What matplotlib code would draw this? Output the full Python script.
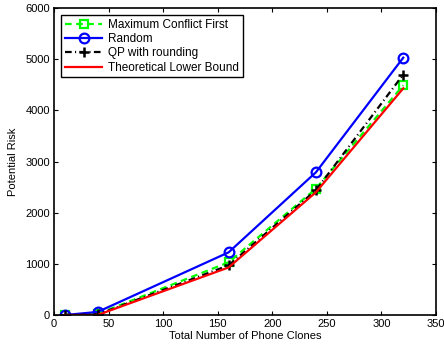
import matplotlib
matplotlib.use("Agg")
import matplotlib.pyplot as plt

# number of phone clones
clones = [10, 40, 160, 240, 320]

# potential risk per method
mcf = [0, 20, 1030, 2470, 4490]
rand = [0, 60, 1225, 2790, 5030]
qp = [0, 10, 970, 2440, 4700]
lower = [0, 0, 930, 2400, 4430]

plt.rcParams['font.family'] = ['Liberation Sans', 'DejaVu Sans']
plt.rcParams['font.size'] = 8

fig = plt.figure(figsize=(4.44, 3.49), dpi=100)
ax = fig.add_axes([0.1216, 0.0974, 0.8604, 0.8796])

ax.plot(clones, mcf, '--s', color=(0, 1, 0), lw=1.6, ms=6, mfc='none', mew=1.6,
        dashes=(3, 2), label='Maximum Conflict First')
ax.plot(clones, rand, '-o', color='blue', lw=1.6, ms=7, mfc='none', mew=1.6,
        label='Random')
ax.plot(clones, qp, '-.+', color='black', lw=1.6, ms=7, mew=1.8,
        dashes=(3, 1.5, 0.5, 1.5), label='QP with rounding')
ax.plot(clones, lower, '-', color='red', lw=1.6, label='Theoretical Lower Bound')

ax.set_xlim(0, 350)
ax.set_ylim(0, 6000)
ax.set_xticks(range(0, 351, 50))
ax.set_yticks(range(0, 6001, 1000))
ax.tick_params(direction='in', top=True, right=True, length=3, pad=3)
for s in ax.spines.values():
    s.set_linewidth(1.2)

ax.set_xlabel('Total Number of Phone Clones', labelpad=1)
ax.set_ylabel('Potential Risk', labelpad=5)

leg = ax.legend(loc='upper left', fancybox=False, framealpha=1, edgecolor='black',
                borderpad=0.3, labelspacing=0.2, handlelength=3.2, handletextpad=0.5,
                borderaxespad=0.6, fontsize=8.5)
leg.get_frame().set_linewidth(1)

fig.savefig('out.png', dpi=100)
